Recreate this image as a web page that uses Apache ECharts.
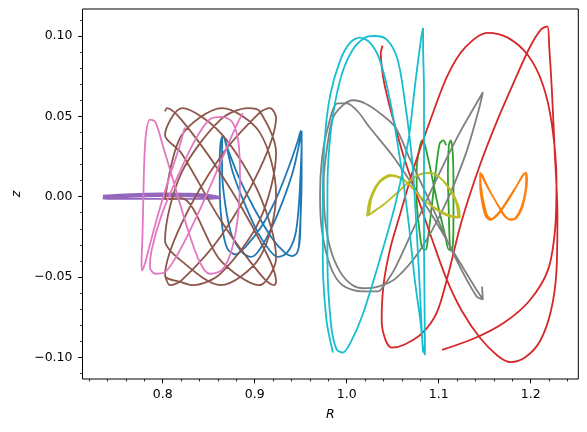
<!DOCTYPE html>
<html>
<head>
<meta charset="utf-8">
<script src="https://cdn.jsdelivr.net/npm/echarts@6/dist/echarts.min.js"></script>
<style>
  html, body { margin: 0; padding: 0; background: #fff; }
  #chart { width: 587px; height: 432px; }
</style>
</head>
<body>
<div id="chart"></div>
<script>
// orbits in the meridional plane, [R, z] pairs
const orbit0 = [[0.948,-0.031],[0.950,-0.011],[0.951,0.0135],[0.951,0.032],[0.950,0.041],[0.947,0.035],[0.938,0.020],[0.925,0.001],[0.908,-0.018],[0.8905,-0.031],[0.879,-0.036],[0.870,-0.032],[0.8645,-0.018],[0.862,0.004],[0.862,0.023],[0.863,0.034],[0.8655,0.038],[0.869,0.032],[0.876,0.0154],[0.8895,-0.005],[0.904,-0.023],[0.917,-0.034],[0.925,-0.0375],[0.935,-0.035],[0.944,-0.024],[0.948,-0.005],[0.950,0.0166],[0.951,0.035],[0.951,0.041],[0.948,0.032],[0.942,0.0166],[0.931,-0.002],[0.917,-0.021],[0.904,-0.034],[0.896,-0.0375],[0.887,-0.035],[0.875,-0.024],[0.868,-0.005],[0.8645,0.0166],[0.8645,0.032],[0.8655,0.038],[0.871,0.029],[0.884,0.0104],[0.900,-0.008],[0.919,-0.026],[0.933,-0.035],[0.9405,-0.037],[0.946,-0.035],[0.949,-0.027],[0.950,-0.008],[0.951,0.0135],[0.951,0.032],[0.950,0.040]];
const orbit1 = [[1.145,0.015],[1.145,0.007],[1.147,-0.003],[1.151,-0.012],[1.156,-0.0145],[1.161,-0.0125],[1.168,-0.008],[1.176,-0.001],[1.185,0.007],[1.192,0.0135],[1.195,0.015],[1.196,0.010],[1.194,0.001],[1.190,-0.008],[1.183,-0.014],[1.178,-0.0145],[1.172,-0.012],[1.167,-0.0077],[1.159,0.000],[1.151,0.008],[1.146,0.014],
  [1.145,0.015],[1.146,0.006],[1.149,-0.004],[1.153,-0.012],[1.158,-0.014],[1.163,-0.012],[1.170,-0.007],[1.178,0.000],[1.186,0.008],[1.192,0.014],[1.194,0.0145],[1.195,0.009],[1.193,0.000],[1.188,-0.009],[1.181,-0.014],[1.176,-0.014],[1.170,-0.011],[1.165,-0.006],[1.157,0.002],[1.150,0.010],[1.147,0.014]];
const orbit2 = [[1.108,0.032],[1.105,0.035],[1.101,0.033],[1.097,0.017],[1.092,-0.008],[1.088,-0.027],[1.086,-0.033],[1.082,-0.032],[1.079,-0.021],[1.076,-0.002],[1.076,0.017],[1.079,0.030],[1.082,0.035],[1.085,0.032],[1.091,0.017],[1.099,-0.005],[1.107,-0.024],[1.111,-0.033],[1.115,-0.032],[1.116,-0.015],[1.116,0.010],[1.115,0.029],[1.113,0.035],[1.111,0.032],[1.110,0.013],[1.111,-0.011],[1.112,-0.030],[1.113,-0.034]];
const orbit3 = [[1.039,0.094],[1.037,0.089],[1.040,0.073],[1.045,0.060],[1.052,0.045],[1.063,0.023],[1.078,-0.002],[1.093,-0.027],[1.109,-0.052],[1.125,-0.071],[1.145,-0.088],[1.164,-0.099],[1.178,-0.103],[1.194,-0.100],[1.210,-0.090],[1.222,-0.071],[1.228,-0.046],[1.229,-0.011],[1.226,0.029],[1.223,0.066],[1.220,0.094],[1.218,0.106],[1.211,0.104],[1.199,0.093],[1.183,0.073],[1.164,0.048],[1.145,0.020],[1.125,-0.015],[1.110,-0.049],[1.098,-0.072],[1.082,-0.085],[1.063,-0.092],[1.049,-0.094],[1.042,-0.089],[1.038,-0.077],[1.040,-0.055],[1.047,-0.033],[1.058,-0.011],[1.074,0.020],[1.093,0.051],[1.110,0.076],[1.129,0.093],[1.153,0.102],[1.175,0.099],[1.197,0.088],[1.213,0.070],[1.223,0.045],[1.228,0.010],[1.2264,-0.0207],[1.2188,-0.0456],[1.1993,-0.0643],[1.1721,-0.078],[1.1395,-0.088],[1.1036,-0.0954]];
const orbit4 = [[0.735,0.0006],[0.765,0.0016],[0.797,0.0021],[0.830,0.0019],[0.852,0.0009],[0.863,-0.0005],[0.852,-0.0013],[0.830,-0.0013],[0.797,-0.0014],[0.765,-0.0014],[0.735,-0.0013],[0.765,-0.0002],[0.797,0.0004],[0.830,0.0004],[0.863,-0.0012],[0.830,0.0012],[0.797,0.0012],[0.765,0.0008],[0.735,-0.0004]];
const orbit5 = [[0.8025,0.0531],[0.8047,0.0551],[0.8202,0.0479],[0.8628,0.0146],[0.9054,-0.0272],[0.9232,-0.0531],[0.9210,-0.0551],[0.9054,-0.0479],[0.8628,-0.0146],[0.8202,0.0272],
  [0.8025,0.0382],[0.8210,0.0551],[0.8628,0.0397],[0.9054,0.0010],[0.9232,-0.0382],[0.9047,-0.0551],[0.8628,-0.0397],[0.8202,-0.0010],
  [0.8025,-0.0015],[0.8202,0.0379],[0.8645,0.0551],[0.9054,0.0400],[0.9232,0.0015],[0.9054,-0.0379],[0.8628,-0.0551],[0.8202,-0.0400],
  [0.8025,-0.0273],[0.8202,0.0146],[0.8628,0.0479],[0.8927,0.0551],[0.9054,0.0532],[0.9232,0.0273],[0.9054,-0.0146],[0.8628,-0.0479],[0.8329,-0.0551],[0.8202,-0.0532],
  [0.8025,-0.0491],[0.8202,-0.0171],[0.8628,0.0249],[0.9054,0.0523],[0.9166,0.0551],[0.9232,0.0491],[0.9054,0.0171],[0.8628,-0.0249],[0.8202,-0.0523],[0.8079,-0.0551],[0.8025,-0.0491]];
const orbit6 = [[0.824,0.043],[0.817,0.029],[0.806,0.010],[0.795,-0.011],[0.786,-0.030],[0.781,-0.041],[0.7775,-0.046],[0.777,-0.041],[0.778,-0.024],[0.779,0.001],[0.780,0.023],[0.782,0.040],[0.786,0.048],[0.792,0.0465],[0.800,0.032],[0.813,0.007],[0.8275,-0.021],[0.8405,-0.041],[0.851,-0.048],[0.8645,-0.0456],[0.875,-0.033],[0.882,-0.011],[0.884,0.0135],[0.882,0.035],[0.8755,0.0465],[0.8645,0.0496],[0.851,0.048],[0.835,0.035],[0.817,0.0135],[0.799,-0.011],[0.788,-0.033],[0.786,-0.044],[0.792,-0.048],[0.8025,-0.047],[0.819,-0.033],[0.838,-0.011],[0.857,0.0135],[0.873,0.035],[0.882,0.0465],[0.887,0.052]];
const orbit7 = [[1.147,-0.056],[1.148,-0.064],[1.141,-0.062],[1.118,-0.038],[1.091,-0.004],[1.069,0.023],[1.053,0.043],[1.036,0.052],[1.020,0.058],[1.007,0.060],[0.996,0.057],[0.985,0.049],[0.979,0.032],[0.975,0.010],[0.976,-0.011],[0.982,-0.032],[0.993,-0.047],[1.006,-0.055],[1.018,-0.057],[1.034,-0.056],[1.053,-0.051],[1.080,-0.033],[1.107,-0.005],[1.129,0.026],[1.143,0.053],[1.148,0.065],[1.143,0.060],[1.123,0.040],[1.101,0.015],[1.074,-0.018],[1.053,-0.044],[1.042,-0.054],[1.034,-0.059],[1.017,-0.059],[0.995,-0.055],[0.982,-0.043],[0.973,-0.021],[0.971,0.001],[0.973,0.023],[0.979,0.042],[0.990,0.058],[1.000,0.058],[1.012,0.053],[1.025,0.043],[1.053,0.023],[1.091,-0.010],[1.123,-0.041],[1.140,-0.057],[1.148,-0.064]];
const orbit8 = [[1.022,-0.012],[1.025,-0.002],[1.034,0.0085],[1.047,0.0135],[1.058,0.012],[1.067,0.008],[1.078,0.001],[1.093,-0.006],[1.109,-0.011],[1.123,-0.013],[1.121,-0.005],[1.112,0.005],[1.101,0.012],[1.091,0.0148],[1.078,0.0135],[1.067,0.009],[1.056,0.003],[1.042,-0.004],[1.029,-0.0095],[1.022,-0.012],
  [1.024,-0.011],[1.027,-0.001],[1.036,0.009],[1.049,0.013],[1.060,0.011],[1.069,0.007],[1.080,0.000],[1.095,-0.007],[1.110,-0.012],[1.121,-0.013],[1.119,-0.004],[1.110,0.006],[1.099,0.013],[1.089,0.015],[1.076,0.013],[1.065,0.008],[1.054,0.002],[1.040,-0.005],[1.027,-0.010]];
const orbit9 = [[0.985,-0.097],[0.978,-0.077],[0.974,-0.039],[0.974,-0.002],[0.976,0.035],[0.982,0.063],[0.993,0.085],[1.004,0.096],[1.014,0.099],[1.025,0.096],[1.036,0.085],[1.047,0.060],[1.058,0.023],[1.067,-0.015],[1.074,-0.052],[1.080,-0.077],[1.083,-0.094],[1.085,-0.0985],[1.085,-0.092],[1.084,-0.033],[1.084,0.017],[1.084,0.066],[1.083,0.094],[1.083,0.105],[1.081,0.099],[1.075,0.073],[1.067,0.035],[1.054,-0.002],[1.036,-0.039],[1.017,-0.074],[1.004,-0.091],[0.996,-0.097],[0.989,-0.095],[0.983,-0.080],[0.979,-0.039],[0.979,0.004],[0.983,0.042],[0.993,0.073],[1.006,0.091],[1.020,0.099],[1.030,0.100],[1.043,0.098],[1.055,0.086],[1.063,0.060],[1.071,0.023],[1.076,-0.021],[1.080,-0.064],[1.082,-0.089],[1.083,-0.097]];

const orbits = [orbit0, orbit1, orbit2, orbit3, orbit4, orbit5, orbit6, orbit7, orbit8, orbit9];
const colors = ['#1f77b4', '#ff7f0e', '#2ca02c', '#d62728', '#9467bd', '#8c564b', '#e377c2', '#7f7f7f', '#bcbd22', '#17becf'];

// axis ticks
const rTicks = [0.8, 0.9, 1.0, 1.1, 1.2];
const rMinorTicks = [0.72, 0.74, 0.76, 0.78, 0.82, 0.84, 0.86, 0.88, 0.92, 0.94, 0.96, 0.98, 1.02, 1.04, 1.06, 1.08, 1.12, 1.14, 1.16, 1.18, 1.22, 1.24];
const zTicks = [-0.10, -0.05, 0.00, 0.05, 0.10];
const zMinorTicks = [-0.11, -0.09, -0.08, -0.07, -0.06, -0.04, -0.03, -0.02, -0.01, 0.01, 0.02, 0.03, 0.04, 0.06, 0.07, 0.08, 0.09, 0.11];

const rMin = 0.7128, rMax = 1.2517;
const zMin = -0.1135, zMax = 0.1168;

const font = 'DejaVu Sans';
const chart = echarts.init(document.getElementById('chart'));

const option = {
    animation: false,
    grid: {
        left: 82.5,
        right: 8.7,
        top: 9,
        bottom: 53,
        show: true,
        borderColor: '#000',
        borderWidth: 1
    },
    xAxis: [
        {
            type: 'value',
            position: 'bottom',
            min: rMin,
            max: rMax,
            axisLine: { show: false, onZero: false },
            splitLine: { show: false },
            axisTick: { customValues: rTicks, length: 4.4, lineStyle: { color: '#000', width: 1 } },
            axisLabel: {
                customValues: rTicks,
                margin: 9,
                color: '#000',
                fontSize: 12.5,
                fontFamily: font,
                formatter: v => v.toFixed(1)
            },
            name: 'R',
            nameLocation: 'middle',
            nameGap: 29,
            nameTextStyle: { fontStyle: 'italic', fontSize: 12.5, color: '#000', fontFamily: font }
        },
        {
            // minor ticks
            type: 'value',
            position: 'bottom',
            min: rMin,
            max: rMax,
            axisLine: { show: false, onZero: false },
            splitLine: { show: false },
            axisLabel: { show: false },
            axisTick: { customValues: rMinorTicks, length: 2.5, lineStyle: { color: '#000', width: 0.8 } }
        }
    ],
    yAxis: [
        {
            type: 'value',
            position: 'left',
            min: zMin,
            max: zMax,
            axisLine: { show: false, onZero: false },
            splitLine: { show: false },
            axisTick: { customValues: zTicks, length: 4.4, lineStyle: { color: '#000', width: 1 } },
            axisLabel: {
                customValues: zTicks,
                margin: 10,
                color: '#000',
                fontSize: 12.5,
                fontFamily: font,
                formatter: v => (v < -1e-9 ? '\u2212' : '') + Math.abs(v).toFixed(2)
            },
            name: 'z',
            nameLocation: 'middle',
            nameGap: 58,
            nameTextStyle: { fontStyle: 'italic', fontSize: 12.5, color: '#000', fontFamily: font }
        },
        {
            // minor ticks
            type: 'value',
            position: 'left',
            min: zMin,
            max: zMax,
            axisLine: { show: false, onZero: false },
            splitLine: { show: false },
            axisLabel: { show: false },
            axisTick: { customValues: zMinorTicks, length: 2.5, lineStyle: { color: '#000', width: 0.8 } }
        }
    ],
    series: orbits.map((d, i) => ({
        type: 'line',
        data: d,
        xAxisIndex: 0,
        yAxisIndex: 0,
        showSymbol: false,
        smooth: 0.3,
        silent: true,
        clip: true,
        lineStyle: { color: colors[i], width: 1.8 },
        itemStyle: { color: colors[i] }
    }))
};

chart.setOption(option);
</script>
</body>
</html>
